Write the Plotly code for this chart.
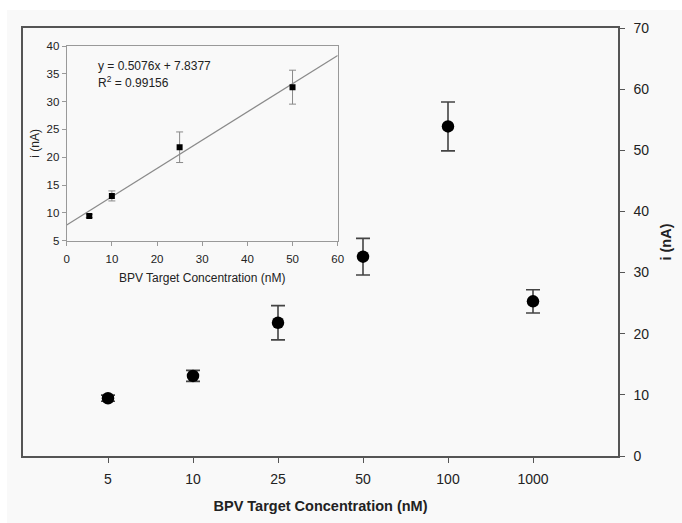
import plotly.graph_objects as go

W, H = 682, 523

# Main chart data
categories = ["5", "10", "25", "50", "100", "1000"]
current_nA = [9.45, 13.1, 21.8, 32.6, 53.9, 25.3]
current_err = [0.5, 0.9, 2.8, 3.0, 4.0, 1.9]

# Inset data
inset_conc = [5, 10, 25, 50]
inset_current = [9.45, 13.05, 21.8, 32.6]
inset_err = [0.3, 0.9, 2.75, 3.05]
fit_slope = 0.5076
fit_intercept = 7.8377
fit_r2 = 0.99156
fit_x = [0, 60]
fit_y = [fit_slope * v + fit_intercept for v in fit_x]

FONT = "Liberation Sans, Arial, Helvetica, sans-serif"

def px_x(v):
    return v / W

def px_y(v):
    return 1 - v / H

fig = go.Figure()

fig.add_trace(go.Scatter(
    x=categories, y=current_nA, mode="markers",
    marker=dict(color="black", size=12.5),
    error_y=dict(type="data", array=current_err, color="#444444", thickness=1.6, width=7),
    xaxis="x", yaxis="y", showlegend=False, cliponaxis=False,
))

fig.add_trace(go.Scatter(
    x=fit_x, y=fit_y, mode="lines",
    line=dict(color="#8a8a8a", width=1.2),
    xaxis="x2", yaxis="y2", showlegend=False,
))

fig.add_trace(go.Scatter(
    x=inset_conc, y=inset_current, mode="markers",
    marker=dict(color="black", size=6, symbol="square"),
    error_y=dict(type="data", array=inset_err, color="#8a8a8a", thickness=1, width=3.5),
    xaxis="x2", yaxis="y2", showlegend=False,
))

fig.update_layout(
    width=W, height=H,
    margin=dict(l=0, r=0, t=0, b=0),
    paper_bgcolor="white",
    plot_bgcolor="rgba(0,0,0,0)",
    font=dict(family=FONT, color="#222222"),
    shapes=[dict(type="rect", xref="paper", yref="paper",
                 x0=px_x(7), x1=1, y0=0, y1=px_y(10),
                 fillcolor="#f9f9f9", line=dict(width=0), layer="below")],
    xaxis=dict(
        domain=[px_x(23), px_x(618)], anchor="y", automargin=False,
        type="category", range=[-1, 6],
        showline=True, linecolor="#555555", linewidth=1.5, mirror=True,
        ticks="outside", ticklen=5, tickwidth=1.2, tickcolor="#555555",
        ticklabelstandoff=4,
        tickfont=dict(size=14, color="#222222"),
        showgrid=False, zeroline=False,
        title=dict(text="<b>BPV Target Concentration (nM)</b>", font=dict(size=14.5, color="#222222"), standoff=15),
    ),
    yaxis=dict(
        domain=[px_y(456), px_y(28)], anchor="x", side="right", automargin=False,
        range=[0, 70], dtick=10,
        showline=True, linecolor="#555555", linewidth=1.5, mirror=True,
        ticks="outside", ticklen=5, tickwidth=1.2, tickcolor="#555555",
        ticklabelstandoff=6,
        tickfont=dict(size=14, color="#222222"),
        showgrid=False, zeroline=False,
        title=dict(text="<b>i (nA)</b>", font=dict(size=14.5, color="#222222"), standoff=13),
    ),
    xaxis2=dict(
        domain=[px_x(66.7), px_x(337.7)], anchor="y2", automargin=False,
        range=[0, 60], dtick=10,
        showline=True, linecolor="#999999", linewidth=1, mirror=True,
        ticks="outside", ticklen=4, tickcolor="#999999",
        ticklabelstandoff=3,
        tickfont=dict(size=11.5, color="#222222"),
        showgrid=False, zeroline=False,
        title=dict(text="BPV Target Concentration (nM)", font=dict(size=12, color="#222222"), standoff=10),
    ),
    yaxis2=dict(
        domain=[px_y(240.7), px_y(46)], anchor="x2", automargin=False,
        range=[5, 40], dtick=5,
        showline=True, linecolor="#999999", linewidth=1, mirror=True,
        ticks="outside", ticklen=4, tickcolor="#999999",
        tickfont=dict(size=11.5, color="#222222"),
        showgrid=False, zeroline=False,
        title=dict(text="i (nA)", font=dict(size=12, color="#222222"), standoff=4),
    ),
    annotations=[
        dict(xref="x2", yref="y2", x=6.5, y=36.4, xanchor="left", yanchor="middle",
             text=f"y = {fit_slope}x + {fit_intercept}", showarrow=False,
             font=dict(size=12, color="#222222")),
        dict(xref="x2", yref="y2", x=6.5, y=33.6, xanchor="left", yanchor="middle",
             text=f"R<sup>2</sup> = {fit_r2}", showarrow=False,
             font=dict(size=12, color="#222222")),
    ],
)

fig.write_html("out.html")
